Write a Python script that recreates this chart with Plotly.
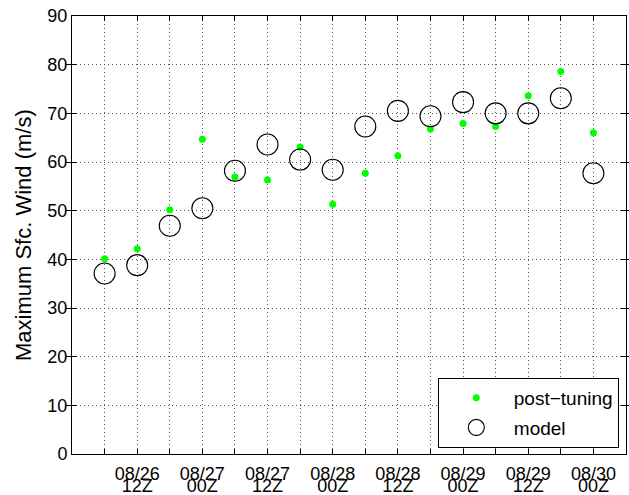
import plotly.graph_objects as go

times = ["08/26 06Z", "08/26 12Z", "08/26 18Z", "08/27 00Z", "08/27 06Z", "08/27 12Z",
         "08/27 18Z", "08/28 00Z", "08/28 06Z", "08/28 12Z", "08/28 18Z", "08/29 00Z",
         "08/29 06Z", "08/29 12Z", "08/29 18Z", "08/30 00Z"]
tick_dates = ["", "08/26", "", "08/27", "", "08/27", "", "08/28", "", "08/28", "",
              "08/29", "", "08/29", "", "08/30"]
tick_hours = ["", "12Z", "", "00Z", "", "12Z", "", "00Z", "", "12Z", "", "00Z", "",
              "12Z", "", "00Z"]
post_tuning = [40.1, 42.2, 50.2, 64.7, 56.9, 56.3, 63.1, 51.3, 57.7, 61.3,
               66.8, 67.9, 67.3, 73.6, 78.6, 66.0]
model = [37.1, 38.8, 46.9, 50.5, 58.2, 63.6, 60.5, 58.4, 67.3, 70.5,
         69.4, 72.3, 70.0, 70.0, 73.1, 57.7]
yticks = [0, 10, 20, 30, 40, 50, 60, 70, 80, 90]

font = "Liberation Sans, Arial, Helvetica, sans-serif"
TICK = 18

fig = go.Figure()
fig.add_trace(go.Scatter(
    x=times, y=post_tuning, mode="markers", name="post\u2212tuning",
    legendgroup="a",
    marker=dict(color="#00ff00", size=7, line=dict(width=0)),
))
fig.add_trace(go.Scatter(
    x=times, y=model, mode="markers", name="model",
    legendgroup="b",
    marker=dict(symbol="circle-open", color="black", size=21, line=dict(width=1.1, color="black")),
))
# invisible trace carrying the categories for the second-line tick axis
fig.add_trace(go.Scatter(
    x=times, y=model, mode="markers", xaxis="x2", showlegend=False,
    hoverinfo="skip", marker=dict(opacity=0),
))

grid = dict(showgrid=True, gridcolor="#555555", griddash="1px,3px", gridwidth=1)
line = dict(showline=True, linecolor="black", linewidth=1, mirror="allticks",
            ticks="inside", ticklen=5, tickcolor="black", tickwidth=1, zeroline=False)

fig.update_layout(
    width=629, height=495,
    margin=dict(l=72, r=3, t=16, b=41),
    paper_bgcolor="white", plot_bgcolor="white",
    font=dict(family=font, size=TICK, color="black"),
    showlegend=True,
    legend=dict(
        x=0.987, y=0.014, xanchor="right", yanchor="bottom",
        bordercolor="black", borderwidth=1, bgcolor="white",
        font=dict(size=19, family=font, color="black"),
        tracegroupgap=2, itemwidth=65,
    ),
    xaxis=dict(
        type="category", range=[-1, 16], automargin=False,
        tickmode="array", tickvals=times, ticktext=tick_dates,
        tickfont=dict(size=TICK, family=font, color="black"),
        ticklabelstandoff=3,
        **grid, **line,
    ),
    xaxis2=dict(
        type="category", range=[-1, 16], automargin=False, overlaying="x",
        anchor="y", side="bottom",
        tickmode="array", tickvals=times, ticktext=tick_hours,
        tickfont=dict(size=TICK, family=font, color="black"),
        ticklabelstandoff=19, showgrid=False, showline=False, ticks="",
        zeroline=False,
    ),
    yaxis=dict(
        range=[0, 90], tickmode="array", tickvals=yticks, automargin=False,
        tickfont=dict(size=TICK, family=font, color="black"),
        **grid, **line,
    ),
    annotations=[dict(
        text="Maximum Sfc. Wind (m/s)", textangle=-90,
        xref="paper", yref="paper", x=0, y=0.5, xanchor="center", yanchor="middle",
        xshift=-49, showarrow=False,
        font=dict(size=22, family=font, color="black"),
    )],
)

fig.write_html(
    "out.html",
    config={"displayModeBar": False},
    post_script="document.body.style.margin='0';document.body.style.overflow='hidden';",
)
